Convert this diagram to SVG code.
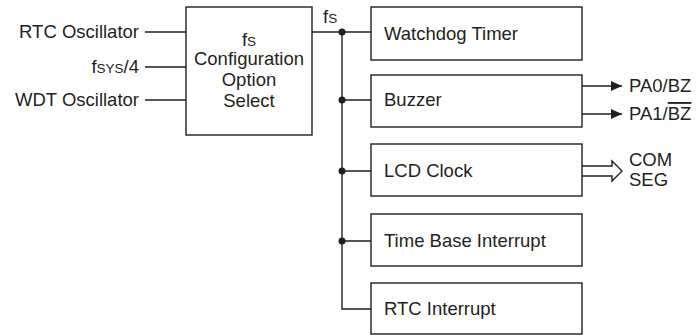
<svg xmlns="http://www.w3.org/2000/svg" width="697" height="335" viewBox="0 0 697 335">
<defs>
<style>
text{font-family:"Liberation Sans",Arial,sans-serif;font-size:18.5px;fill:#231f20}
.sm{font-size:13.5px}
.box{fill:#fff;stroke:#231f20;stroke-width:1.4}
.ln{fill:none;stroke:#231f20;stroke-width:1.4}
.dot{fill:#231f20}
</style>
<marker id="ah" markerWidth="12" markerHeight="10" refX="11" refY="5" orient="auto" markerUnits="userSpaceOnUse">
<path d="M0,0 L11,5 L0,10 Z" fill="#231f20"/>
</marker>
</defs>
<rect width="697" height="335" fill="#fff"/>
<g id="inputs">
<text x="139" y="38" text-anchor="end">RTC Oscillator</text>
<text x="139" y="73" text-anchor="end">f<tspan class="sm">SYS</tspan>/4</text>
<text x="139" y="106" text-anchor="end">WDT Oscillator</text>
</g>
<g id="connectors">
<path class="ln" d="M145,32 H186 M145,67 H186 M145,100 H186"/>
<path class="ln" d="M312,32 H371 M342,32 V309 H371 M342,100 H371 M342,171 H371 M342,241 H371"/>
<circle class="dot" cx="342" cy="32" r="3.5"/>
<circle class="dot" cx="342" cy="100" r="3.5"/>
<circle class="dot" cx="342" cy="171" r="3.5"/>
<circle class="dot" cx="342" cy="241" r="3.5"/>
<text x="323" y="23">f<tspan class="sm">S</tspan></text>
<path class="ln" d="M582,86 H622" marker-end="url(#ah)"/>
<path class="ln" d="M582,114 H622" marker-end="url(#ah)"/>
<path class="ln" d="M582,166 H612 V161 L622,171 L612,181 V176 H582" stroke-linejoin="miter"/>
</g>
<g id="config">
<rect class="box" x="186" y="7" width="126" height="128"/>
<text x="249" y="46" text-anchor="middle">f<tspan class="sm">S</tspan></text>
<text x="249" y="65" text-anchor="middle">Configuration</text>
<text x="249" y="86" text-anchor="middle">Option</text>
<text x="249" y="107" text-anchor="middle">Select</text>
</g>
<g id="watchdog">
<rect class="box" x="371" y="7" width="211" height="53"/>
<text x="384" y="40">Watchdog Timer</text>
</g>
<g id="buzzer">
<rect class="box" x="371" y="75" width="211" height="52"/>
<text x="384" y="106">Buzzer</text>
</g>
<g id="lcd">
<rect class="box" x="371" y="144" width="211" height="52"/>
<text x="384" y="177">LCD Clock</text>
</g>
<g id="timebase">
<rect class="box" x="371" y="214" width="211" height="52"/>
<text x="384" y="247">Time Base Interrupt</text>
</g>
<g id="rtcint">
<rect class="box" x="371" y="283" width="211" height="51"/>
<text x="384" y="315">RTC Interrupt</text>
</g>
<g id="outputs">
<text x="629" y="92">PA0/BZ</text>
<text x="629" y="120">PA1/<tspan text-decoration="overline">BZ</tspan></text>
<text x="629" y="166">COM</text>
<text x="629" y="186">SEG</text>
</g>
</svg>
